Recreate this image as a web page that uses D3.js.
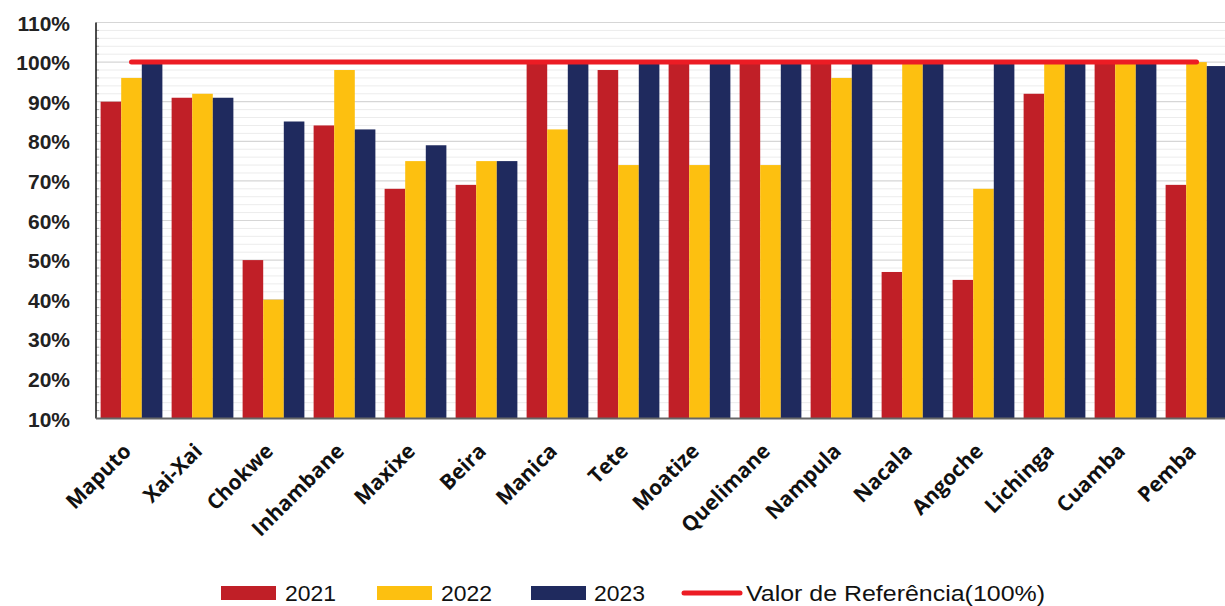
<!DOCTYPE html>
<html>
<head>
<meta charset="utf-8">
<script src="https://cdn.jsdelivr.net/npm/d3@7"></script>
<style>
  body { margin: 0; background: #fff; }
  svg { display: block; }
  .ytick text { font-family: "Liberation Sans", Arial, sans-serif; font-weight: bold; font-size: 21px; fill: #222; }
  .xlab { font-family: "Open Sans", "Liberation Sans", sans-serif; font-weight: bold; font-size: 21px; fill: #111; }
  .legend { font-family: "Liberation Sans Narrow", "Liberation Sans", sans-serif; font-size: 22px; fill: #111; }
</style>
</head>
<body>
<div id="chart"></div>
<script>
// categories and series
var cities = ["Maputo", "Xai-Xai", "Chokwe", "Inhambane", "Maxixe", "Beira", "Manica", "Tete",
  "Moatize", "Quelimane", "Nampula", "Nacala", "Angoche", "Lichinga", "Cuamba", "Pemba"];
var years = ["2021", "2022", "2023"];
var v2021 = [90, 91, 50, 84, 68, 69, 100, 98, 100, 100, 100, 47, 45, 92, 100, 69];
var v2022 = [96, 92, 40, 98, 75, 75, 83, 74, 74, 74, 96, 100, 68, 100, 100, 100];
var v2023 = [100, 91, 85, 83, 79, 75, 100, 100, 100, 100, 100, 100, 100, 100, 100, 99];
var refValue = 100;
var refLabel = "Valor  de Referência(100%)";
var yTicks = [10, 20, 30, 40, 50, 60, 70, 80, 90, 100, 110];

var colors = { "2021": "#C01F27", "2022": "#FDC010", "2023": "#1F2A5E" };
var refColor = "#EC1C24";

var W = 1225, H = 606;
var plotL = 96, plotR = 1232, plotT = 22.5, plotB = 418.5;

var svg = d3.select("#chart").append("svg")
  .attr("width", W)
  .attr("height", H);

var x0 = d3.scaleBand()
  .domain(cities)
  .range([plotL, plotR])
  .paddingInner(0.13)
  .paddingOuter(0.065);

var x1 = d3.scaleBand()
  .domain(years)
  .range([0, x0.bandwidth()]);

var y = d3.scaleLinear()
  .domain([10, 110])
  .range([plotB, plotT]);

// minor gridlines every 2%
var minor = d3.range(12, 110, 2).filter(function (d) { return d % 10 != 0; });
svg.append("g").selectAll("line")
  .data(minor)
  .enter().append("line")
  .attr("x1", plotL).attr("x2", W)
  .attr("y1", function (d) { return y(d); })
  .attr("y2", function (d) { return y(d); })
  .style("stroke", "#ececec")
  .style("stroke-width", 1);

// little minor ticks on the left axis
svg.append("g").selectAll("line")
  .data(minor)
  .enter().append("line")
  .attr("x1", plotL).attr("x2", plotL + 3)
  .attr("y1", function (d) { return y(d); })
  .attr("y2", function (d) { return y(d); })
  .style("stroke", "#aaa")
  .style("stroke-width", 1);

// major gridlines
svg.append("g").selectAll("line")
  .data(yTicks.filter(function (d) { return d > 10; }))
  .enter().append("line")
  .attr("x1", plotL).attr("x2", W)
  .attr("y1", function (d) { return y(d); })
  .attr("y2", function (d) { return y(d); })
  .style("stroke", "#d6d6d6")
  .style("stroke-width", 1.2);

// y axis labels
var yAxis = svg.append("g")
  .attr("class", "ytick")
  .attr("transform", "translate(" + plotL + ",0)")
  .call(d3.axisLeft(y).tickValues(yTicks).tickSize(0).tickPadding(26)
    .tickFormat(function (d) { return d + "%"; }));
yAxis.select(".domain").remove();
yAxis.selectAll("text").attr("dy", "0.36em");

// bars
var rows = cities.map(function (c, i) {
  return { city: c, vals: [
    { year: "2021", v: v2021[i] },
    { year: "2022", v: v2022[i] },
    { year: "2023", v: v2023[i] }] };
});

var groups = svg.selectAll(".grp")
  .data(rows)
  .enter().append("g")
  .attr("class", "grp")
  .attr("transform", function (d) { return "translate(" + x0(d.city) + ",0)"; });

groups.selectAll("rect")
  .data(function (d) { return d.vals; })
  .enter().append("rect")
  .attr("x", function (d) { return x1(d.year); })
  .attr("y", function (d) { return y(d.v); })
  .attr("width", x1.bandwidth())
  .attr("height", function (d) { return y(10) - y(d.v); })
  .style("fill", function (d) { return colors[d.year]; });

// axis lines
svg.append("line")
  .attr("x1", plotL).attr("x2", plotL)
  .attr("y1", plotT).attr("y2", plotB)
  .style("stroke", "#111").style("stroke-width", 1.5);
svg.append("line")
  .attr("x1", plotL).attr("x2", W)
  .attr("y1", plotB).attr("y2", plotB)
  .style("stroke", "#666").style("stroke-width", 2);

// reference line
var firstC = x0(cities[0]) + x0.bandwidth() / 2;
var lastC = x0(cities[cities.length - 1]) + x0.bandwidth() / 2;
svg.append("line")
  .attr("x1", firstC).attr("x2", lastC)
  .attr("y1", y(refValue)).attr("y2", y(refValue))
  .style("stroke", refColor)
  .style("stroke-width", 5)
  .style("stroke-linecap", "round");

// x labels rotated
svg.selectAll(".xlab")
  .data(cities)
  .enter().append("text")
  .attr("class", "xlab")
  .attr("text-anchor", "end")
  .attr("transform", function (d) {
    return "translate(" + (x0(d) + x0.bandwidth() / 2 + 1) + "," + (plotB + 34) + ") rotate(-45)";
  })
  .text(function (d) { return d; });

// legend
var legY = 593;
var leg = [
  { label: "2021", x: 221, tx: 285, tw: 51, kind: "rect", color: colors["2021"] },
  { label: "2022", x: 377, tx: 441, tw: 51, kind: "rect", color: colors["2022"] },
  { label: "2023", x: 531, tx: 594, tw: 51, kind: "rect", color: colors["2023"] },
  { label: refLabel, x: 684, tx: 746, tw: 299, kind: "line", color: refColor }
];
leg.forEach(function (d) {
  if (d.kind == "rect") {
    svg.append("rect")
      .attr("x", d.x).attr("y", legY - 7)
      .attr("width", 55).attr("height", 14)
      .style("fill", d.color);
  } else {
    svg.append("line")
      .attr("x1", d.x).attr("x2", d.x + 56)
      .attr("y1", legY).attr("y2", legY)
      .style("stroke", d.color).style("stroke-width", 5)
      .style("stroke-linecap", "round");
  }
  svg.append("text")
    .attr("class", "legend")
    .attr("x", d.tx).attr("y", legY + 8)
    .attr("textLength", d.tw)
    .attr("lengthAdjust", "spacingAndGlyphs")
    .text(d.label);
});
</script>
</body>
</html>
